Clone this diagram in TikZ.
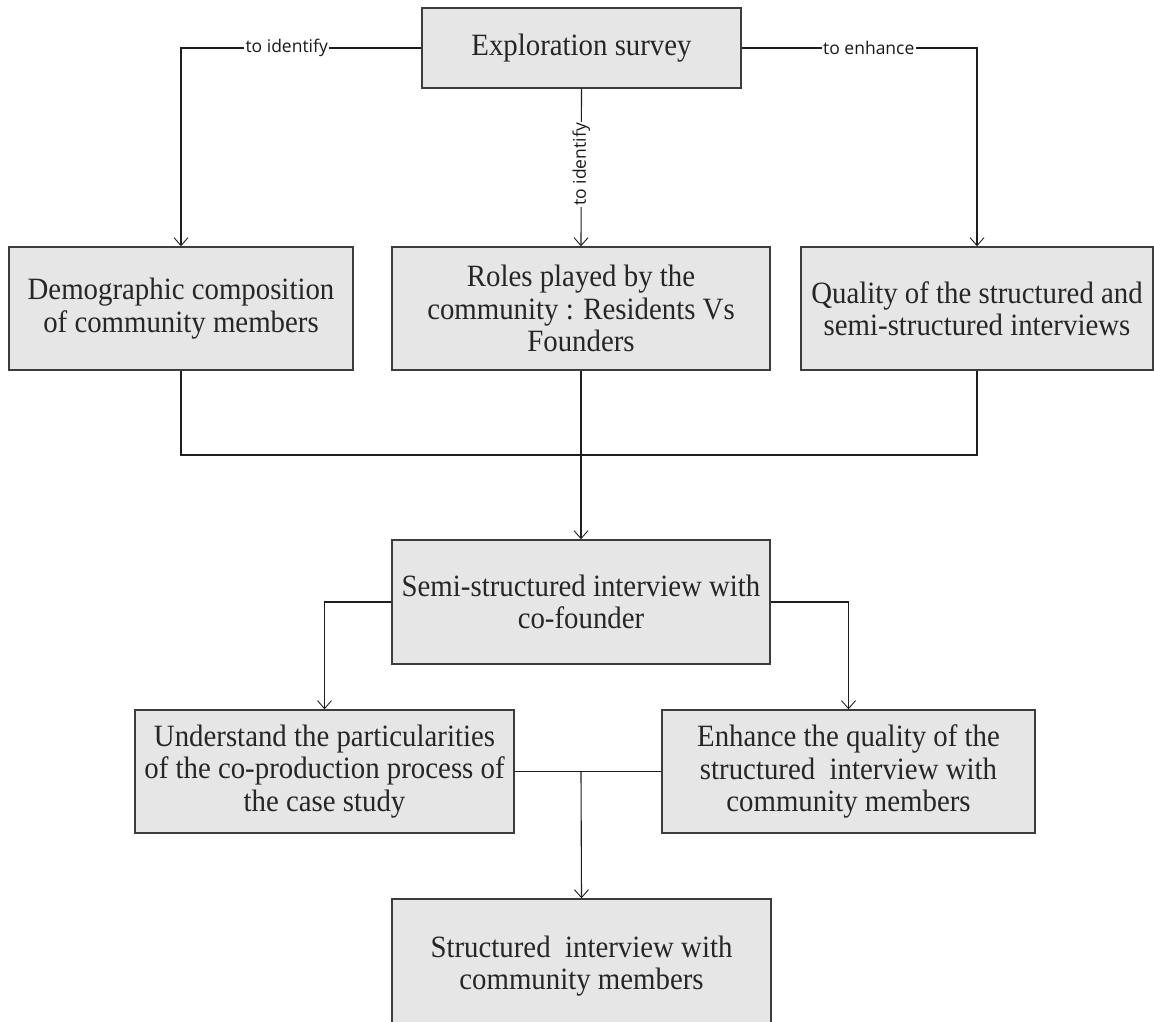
\documentclass[tikz,border=0pt]{standalone}
\usepackage{fontspec}
\setmainfont{Liberation Serif}[FakeStretch=0.93]
\newfontfamily\labelfont{Open Sans}
\usetikzlibrary{arrows.meta}
\definecolor{boxfill}{HTML}{E6E6E6}
\definecolor{boxedge}{HTML}{3C3C3C}
\definecolor{linecol}{HTML}{1E1E1E}
\begin{document}
\begin{tikzpicture}[x=1pt,y=-1pt,
  box/.style={draw=boxedge, line width=1.4pt, fill=boxfill, align=center,
    inner sep=0pt, font=\fontsize{31}{32.5}\selectfont, text=black!85},
  conn/.style={draw=linecol, line width=1.1pt},
  arr/.style={conn, -{Straight Barb[length=8pt,width=14pt,line width=0.9pt]}},
  lbl/.style={fill=white, inner sep=1.5pt, font=\labelfont\fontsize{17.5}{19}\selectfont, text=black!90}]
\useasboundingbox (0,0) rectangle (1154,1021);
\fill[white] (0,0) rectangle (1154,1021);

% boxes
\node[box, minimum width=319pt, minimum height=80pt] (explore) at (581.5,48) {Exploration survey};
\node[box, minimum width=344pt, minimum height=123pt] (demo) at (181,308.5)
  {Demographic composition\\of community members};
\node[box, minimum width=378pt, minimum height=123pt] (roles) at (581,308.5)
  {Roles played by the\\community : Residents Vs\\Founders};
\node[box, minimum width=352pt, minimum height=123pt] (quality) at (977,308.5)
  {Quality of the structured and\\semi-structured interviews};
\node[box, minimum width=378pt, minimum height=124pt] (semi) at (581,602)
  {Semi-structured interview with\\co-founder};
\node[box, minimum width=379pt, minimum height=123pt] (underst) at (324.5,771.5)
  {Understand the particularities\\of the co-production process of\\the case study};
\node[box, minimum width=373pt, minimum height=123pt] (enhance) at (848.5,771.5)
  {Enhance the quality of the\\structured\ \ interview with\\community members};
\node[box, minimum width=379pt, minimum height=134pt] (struct) at (581.5,966)
  {Structured\ \ interview with\\community members};

% junction points
\coordinate (j1) at (581,455);
\coordinate (j2) at (581,772);

% connectors from the exploration survey
\draw[arr] (explore.west) -| node[lbl, pos=0.28] {to identify} (demo.north);
\draw[arr] (explore.east) -| node[lbl, pos=0.27] {to enhance} (quality.north);
\draw[arr] (explore.south) -- node[lbl, pos=0.48, rotate=90] {to identify} (roles.north);

% merge into the semi-structured interview
\draw[conn] (demo.south) |- (j1) -| (quality.south);
\draw[arr] (roles.south) -- (semi.north);

% split into the two goals
\draw[arr] (semi.west) -| (underst.north);
\draw[arr] (semi.east) -| (enhance.north);

% merge into the structured interview
\draw[conn] (underst.east) -- (enhance.west);
\draw[arr] (j2) -- (struct.north);
\end{tikzpicture}
\end{document}
